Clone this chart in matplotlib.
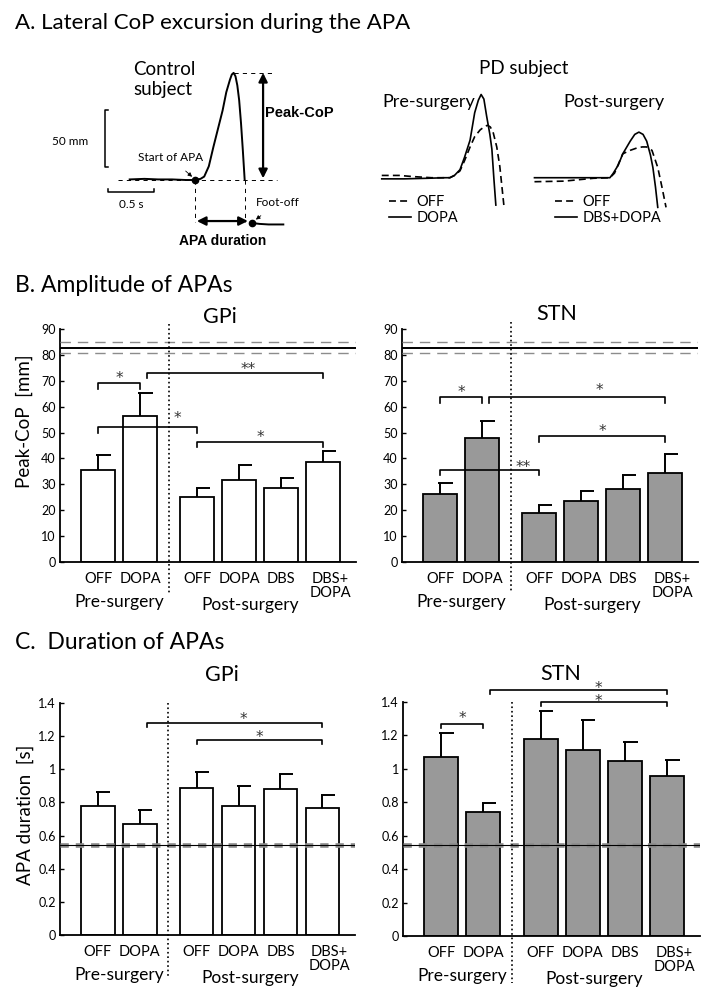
import matplotlib
matplotlib.use('Agg')
import matplotlib.pyplot as plt
from matplotlib.lines import Line2D
from matplotlib.legend import Legend
import numpy as np

plt.rcParams['font.family'] = ['Lato', 'DejaVu Sans']
plt.rcParams['lines.scale_dashes'] = False

W, H = 714, 998

# ---------------- panel A: CoP traces (time in s from APA onset, CoP in mm) ----------------
ctrl_t = [-0.71, -0.55, -0.40, -0.25, -0.10, 0.00, 0.06, 0.10, 0.15, 0.20, 0.25, 0.30,
          0.34, 0.38, 0.40, 0.42, 0.44, 0.46, 0.48, 0.50, 0.52, 0.54]
ctrl_cop = [0.5, 1.0, 0.5, 0.5, 0.0, 0.0, 1.0, 3.0, 12.0, 29.0, 45.0, 61.0,
            77.0, 88.0, 92.5, 94.0, 91.0, 83.0, 70.0, 50.0, 26.0, 0.0]
ctrl_after_t = [0.62, 0.70, 0.80, 0.96]
ctrl_after_cop = [-37.7, -38.5, -39.0, -39.0]
ctrl_footoff = 0.62
ctrl_crossing = 0.54

pre_dopa_t = [-0.74, -0.50, -0.25, -0.05, 0.00, 0.05, 0.11, 0.16, 0.22, 0.27, 0.31, 0.34,
              0.37, 0.40, 0.435, 0.457, 0.478, 0.50]
pre_dopa_cop = [-1.0, -1.0, -0.5, 0.0, 0.0, 2.0, 7.0, 18.0, 33.0, 57.0, 68.0, 73.0,
                69.0, 54.0, 38.0, 25.0, 0.0, -24.0]
pre_off_t = [-0.74, -0.55, -0.40, -0.20, 0.00, 0.05, 0.11, 0.16, 0.22, 0.27, 0.33, 0.38,
             0.41, 0.44, 0.47, 0.51, 0.543, 0.587]
pre_off_cop = [2.0, 2.0, 1.0, 0.0, 0.0, 2.0, 6.0, 15.0, 27.0, 36.0, 42.0, 45.0,
               46.0, 44.5, 40.0, 27.0, 10.0, -24.0]

post_dbsdopa_t = [-0.82, -0.50, -0.20, 0.00, 0.033, 0.09, 0.14, 0.22, 0.27, 0.315, 0.36,
                  0.40, 0.44, 0.467, 0.495, 0.52]
post_dbsdopa_cop = [0.0, 0.0, 0.0, 0.0, 3.5, 11.0, 21.0, 32.0, 38.0, 40.0, 38.0,
                    32.0, 20.0, 9.0, -8.0, -26.0]
post_off_t = [-0.82, -0.50, -0.18, 0.00, 0.05, 0.14, 0.22, 0.29, 0.35, 0.40, 0.457,
              0.52, 0.565, 0.61]
post_off_cop = [-3.5, -3.0, -0.5, 0.0, 4.0, 21.0, 24.0, 26.0, 27.0, 27.0, 24.0,
                9.0, -8.0, -26.0]

scale_mm = 50
scale_s = 0.5

# ---------------- panels B and C: bar data ----------------
cond_labels = ['OFF', 'DOPA', 'OFF', 'DOPA', 'DBS', 'DBS+\nDOPA']
group_labels = ['Pre-surgery', 'Post-surgery']

amp_gpi = [35.5, 56.5, 25.2, 31.5, 28.5, 38.5]
amp_gpi_sem = [5.7, 8.6, 3.4, 6.1, 4.1, 4.2]
amp_stn = [26.3, 47.8, 19.0, 23.5, 28.3, 34.4]
amp_stn_sem = [4.3, 6.7, 3.0, 4.0, 5.2, 7.2]
amp_ctrl_mean, amp_ctrl_sd = 82.8, 2.0

dur_gpi = [0.78, 0.672, 0.889, 0.78, 0.881, 0.768]
dur_gpi_sem = [0.081, 0.08, 0.097, 0.119, 0.091, 0.075]
dur_stn = [1.071, 0.739, 1.177, 1.113, 1.049, 0.956]
dur_stn_sem = [0.144, 0.057, 0.169, 0.177, 0.112, 0.095]
dur_ctrl_mean, dur_ctrl_sd = 0.543, 0.007

# significance: (bar i, bar j, bracket level, label)
amp_gpi_sig = [(0, 1, 69.0, '*'), (1, 5, 73.0, '**'), (0, 2, 52.0, '*'), (2, 5, 46.5, '*')]
amp_stn_sig = [(0, 1, 63.6, '*'), (1, 5, 63.6, '*'), (0, 2, 35.5, '**'), (2, 5, 48.5, '*')]
dur_gpi_sig = [(1, 5, 1.28, '*'), (2, 5, 1.177, '*')]
dur_stn_sig = [(0, 1, 1.27, '*'), (1, 5, 1.47, '*'), (2, 5, 1.40, '*')]

# layout helpers
x_pos = np.array([1, 2, 3.36, 4.36, 5.36, 6.36])
divider = 2.68


def fig_rect(left, top, right, bottom):
    return [left / W, 1 - bottom / H, (right - left) / W, (bottom - top) / H]


def ftext(px, py, s, **kw):
    fig.text(px / W, 1 - py / H, s, **kw)


fig = plt.figure(figsize=(W / 100, H / 100), dpi=100)

# ---------------- panel A ----------------
px_s, px_mm = 92.0, 1.14
axA = fig.add_axes(fig_rect(0, 30, W, 255))
axA.set_xlim(-195 / px_s, (W - 195) / px_s)
axA.set_ylim(-(255 - 180) / px_mm, (180 - 30) / px_mm)
axA.axis('off')

axA.plot(ctrl_t, ctrl_cop, color='k', lw=1.4)
axA.plot(ctrl_after_t, ctrl_after_cop, color='k', lw=1.4)
peak = max(ctrl_cop)
t_peak = ctrl_t[int(np.argmax(ctrl_cop))]
arrow_x = 0.74
dur_y = -36.0
axA.hlines(0, ctrl_t[0] - 0.13, arrow_x + 0.15, color='k', lw=0.7, linestyles=[(0, (3, 3))])
axA.hlines(peak, t_peak, arrow_x + 0.11, color='k', lw=0.7, linestyles=[(0, (3, 3))])
axA.vlines([0.0, ctrl_crossing], [0, 0], [dur_y - 1, dur_y - 1], color='k', lw=0.7,
           linestyles=[(0, (3, 3))])
axA.plot([0.0, ctrl_footoff], [0.0, ctrl_after_cop[0]], 'o', color='k', ms=4.5, ls='none')
axA.annotate('', xy=(arrow_x, peak), xytext=(arrow_x, 1.5),
             arrowprops=dict(arrowstyle='<|-|>', color='k', lw=1.6, mutation_scale=13,
                             shrinkA=0, shrinkB=0))
axA.annotate('', xy=(0.02, dur_y), xytext=(0.575, dur_y),
             arrowprops=dict(arrowstyle='<|-|>', color='k', lw=1.6, mutation_scale=13,
                             shrinkA=0, shrinkB=0))
axA.text(arrow_x + 0.02, 59, 'Peak-CoP', fontsize=10.5, fontweight='bold',
         family='Liberation Sans', va='center', ha='left')
axA.text(0.30, -53.5, 'APA duration', fontsize=10, fontweight='bold',
         family='Liberation Sans', va='center', ha='center')
axA.annotate('Start of APA', xy=(-0.02, 2.0), xytext=(-0.27, 20),
             fontsize=8.5, ha='center', va='center',
             arrowprops=dict(arrowstyle='-|>', color='k', lw=0.6, mutation_scale=6,
                             shrinkA=6, shrinkB=1))
axA.annotate('Foot-off', xy=(0.65, -35.5), xytext=(0.90, -19.5),
             fontsize=8.5, ha='center', va='center',
             arrowprops=dict(arrowstyle='-|>', color='k', lw=0.6, mutation_scale=6,
                             shrinkA=6, shrinkB=1))
# scale bars
sb_x, sb_y0 = -0.98, 11.4
axA.plot([sb_x + 0.035, sb_x, sb_x, sb_x + 0.035],
         [sb_y0 + scale_mm, sb_y0 + scale_mm, sb_y0, sb_y0], color='k', lw=1.1)
axA.text(sb_x - 0.18, sb_y0 + scale_mm / 2 - 3, '%d mm' % scale_mm, fontsize=8.5,
         ha='right', va='center')
hb_x0, hb_y = -0.946, -10.5
axA.plot([hb_x0, hb_x0, hb_x0 + scale_s, hb_x0 + scale_s],
         [hb_y + 3, hb_y, hb_y, hb_y + 3], color='k', lw=1.1)
axA.text(hb_x0 + scale_s / 2, hb_y - 11, '%.1f s' % scale_s, fontsize=8.5,
         ha='center', va='center')
axA.text(-0.67, 88, 'Control\nsubject', fontsize=13.5, ha='left', va='center',
         linespacing=1.2)

# PD subject traces
pre_t0, post_t0, pd_base = 2.77, 4.51, 2.0
dash = (0, (5, 3))
axA.plot(np.array(pre_off_t) + pre_t0, np.array(pre_off_cop) + pd_base, color='k', lw=1.2, ls=dash)
axA.plot(np.array(pre_dopa_t) + pre_t0, np.array(pre_dopa_cop) + pd_base, color='k', lw=1.2)
axA.plot(np.array(post_off_t) + post_t0, np.array(post_off_cop) + pd_base, color='k', lw=1.2, ls=dash)
axA.plot(np.array(post_dbsdopa_t) + post_t0, np.array(post_dbsdopa_cop) + pd_base, color='k', lw=1.2)
axA.text(3.57, 98, 'PD subject', fontsize=13.5, ha='center', va='center')
axA.text(2.04, 68, 'Pre-surgery', fontsize=13, ha='left', va='center')
axA.text(4.00, 68, 'Post-surgery', fontsize=13, ha='left', va='center')

h_off = Line2D([], [], color='k', lw=1.2, ls=dash)
h_on = Line2D([], [], color='k', lw=1.2)
for px, lab in [(389, 'DOPA'), (555, 'DBS+DOPA')]:
    leg = Legend(axA, [h_off, h_on], ['OFF', lab], loc='upper left',
                 bbox_to_anchor=(px / W, 1 - 195 / H), bbox_transform=fig.transFigure,
                 frameon=False, fontsize=10.5, handlelength=1.5, handletextpad=0.4,
                 labelspacing=0.15, borderpad=0, borderaxespad=0)
    axA.add_artist(leg)

# ---------------- panels B and C ----------------
star_pos = {
    ('amp_gpi', 1): (4.57, 76.2), ('amp_gpi', 2): (2.9, 57.0),
    ('amp_stn', 1): (4.79, 67.8), ('amp_stn', 2): (2.98, 38.2),
    ('dur_gpi', 0): (4.48, 1.33), ('dur_stn', 1): (4.74, 1.505), ('dur_stn', 2): (4.74, 1.428),
}
star_fs = 11


def draw_bars(ax, name, means, sems, face, ymax, yticks, yticklabels,
              ref_mean, ref_sd, ref_style, sig, tick_len, star_dy, div_top, div_bot, ylabel=None,
              ylabel_pos=None):
    means = np.array(means)
    tops = means + np.array(sems)
    ax.bar(x_pos, means, width=0.8, color=face, edgecolor='k', linewidth=1.3, zorder=2)
    ax.vlines(x_pos, means, tops, color='k', lw=1.4, zorder=3)
    ax.hlines(tops, x_pos - 0.04, x_pos + 0.3, color='k', lw=1.4, zorder=3)

    gray_lw, gray_dash, black_lw = ref_style
    for lvl in (ref_mean - ref_sd, ref_mean + ref_sd):
        ax.axhline(lvl, color='#8c8c8c', lw=gray_lw, ls=gray_dash, zorder=4)
    ax.axhline(ref_mean, color='k', lw=black_lw, zorder=5)

    for k, (i, j, lvl, lab) in enumerate(sig):
        x1 = x_pos[i]
        if i == 1 and j == 5:
            x1 += 0.17
        x2 = x_pos[j]
        ax.plot([x1, x1, x2, x2], [lvl - tick_len, lvl, lvl, lvl - tick_len],
                color='k', lw=1.2, clip_on=False, zorder=3)
        sx, sy = star_pos.get((name, k), ((x1 + x2) / 2, lvl + star_dy))
        # asterisk glyph centre sits ~0.59 em above the baseline
        ax.annotate(lab, xy=(sx, sy), xytext=(0, -0.59 * star_fs), textcoords='offset points',
                    fontsize=star_fs, family='DejaVu Sans', ha='center', va='baseline',
                    color='#333333', annotation_clip=False)

    ax.plot([divider, divider], [div_top, div_bot], transform=ax.get_xaxis_transform(),
            color='k', lw=1.2, ls=(0, (1.2, 2.0)), clip_on=False, zorder=6)

    ax.set_xlim(0.095, 7.14)
    ax.set_ylim(0, ymax)
    ax.set_yticks(yticks)
    ax.set_yticklabels(yticklabels)
    ax.set_xticks([])
    for side in ('top', 'right'):
        ax.spines[side].set_visible(False)
    for side in ('left', 'bottom'):
        ax.spines[side].set_linewidth(1.3)
    ax.tick_params(axis='y', direction='in', length=3, width=1, labelsize=9, pad=3)

    xt = ax.get_xaxis_transform()
    for k, lab in enumerate(cond_labels):
        dx = 0.17 if '\n' in lab else 0.0
        ax.annotate(lab, xy=(x_pos[k] + dx, 0), xycoords=xt, xytext=(0, -7.5),
                    textcoords='offset points', ha='center', va='top', fontsize=10.5,
                    linespacing=0.95)
    ax.annotate(group_labels[0], xy=(1.5, 0), xycoords=xt, xytext=(0, -23),
                textcoords='offset points', ha='center', va='top', fontsize=12.5)
    ax.annotate(group_labels[1], xy=(4.63, 0), xycoords=xt, xytext=(0, -25.5),
                textcoords='offset points', ha='center', va='top', fontsize=12.5)
    if ylabel:
        ax.set_ylabel(ylabel, fontsize=13.5)
        ax.yaxis.set_label_coords(*ylabel_pos)


amp_ticks = list(range(0, 100, 10))
amp_style = (1.0, (0, (7.5, 5)), 1.4)
dur_ticks = [0, 0.2, 0.4, 0.6, 0.8, 1.0, 1.2, 1.4]
dur_ticklabels = ['0', '0.2', '0.4', '0.6', '0.8', '1', '1.2', '1.4']
dur_style = (1.9, (0, (6, 5)), 0.8)

axB1 = fig.add_axes(fig_rect(60, 329, 356, 562))
draw_bars(axB1, 'amp_gpi', amp_gpi, amp_gpi_sem, 'white', 90, amp_ticks, amp_ticks,
          amp_ctrl_mean, amp_ctrl_sd, amp_style, amp_gpi_sig, 2.0, 3.5, 1.02, -0.135,
          ylabel='Peak-CoP  [mm]', ylabel_pos=(-0.09, 0.605))
axB2 = fig.add_axes(fig_rect(402, 329, 698, 562))
draw_bars(axB2, 'amp_stn', amp_stn, amp_stn_sem, '#999999', 90, amp_ticks, amp_ticks,
          amp_ctrl_mean, amp_ctrl_sd, amp_style, amp_stn_sig, 2.0, 3.8, 1.03, -0.135)

axC1 = fig.add_axes(fig_rect(60, 703, 355, 935))
draw_bars(axC1, 'dur_gpi', dur_gpi, dur_gpi_sem, 'white', 1.4, dur_ticks, dur_ticklabels,
          dur_ctrl_mean, dur_ctrl_sd, dur_style, dur_gpi_sig, 0.024, 0.045, 1.0, -0.185,
          ylabel='APA duration  [s]', ylabel_pos=(-0.088, 0.517))
axC2 = fig.add_axes(fig_rect(403, 702, 700, 936))
draw_bars(axC2, 'dur_stn', dur_stn, dur_stn_sem, '#999999', 1.4, dur_ticks, dur_ticklabels,
          dur_ctrl_mean, dur_ctrl_sd, dur_style, dur_stn_sig, 0.024, 0.06, 1.0, -0.2)

# titles
ftext(15, 29, 'A. Lateral CoP excursion during the APA', fontsize=16, va='baseline')
ftext(15, 292, 'B. Amplitude of APAs', fontsize=16.5, va='baseline')
ftext(15, 649, 'C.  Duration of APAs', fontsize=16.5, va='baseline')
ftext(220, 323, 'GPi', fontsize=15.5, ha='center', va='baseline')
ftext(557, 320, 'STN', fontsize=15.5, ha='center', va='baseline')
ftext(222, 681, 'GPi', fontsize=15.5, ha='center', va='baseline')
ftext(561, 680, 'STN', fontsize=15.5, ha='center', va='baseline')

fig.savefig('out.png', dpi=100)
